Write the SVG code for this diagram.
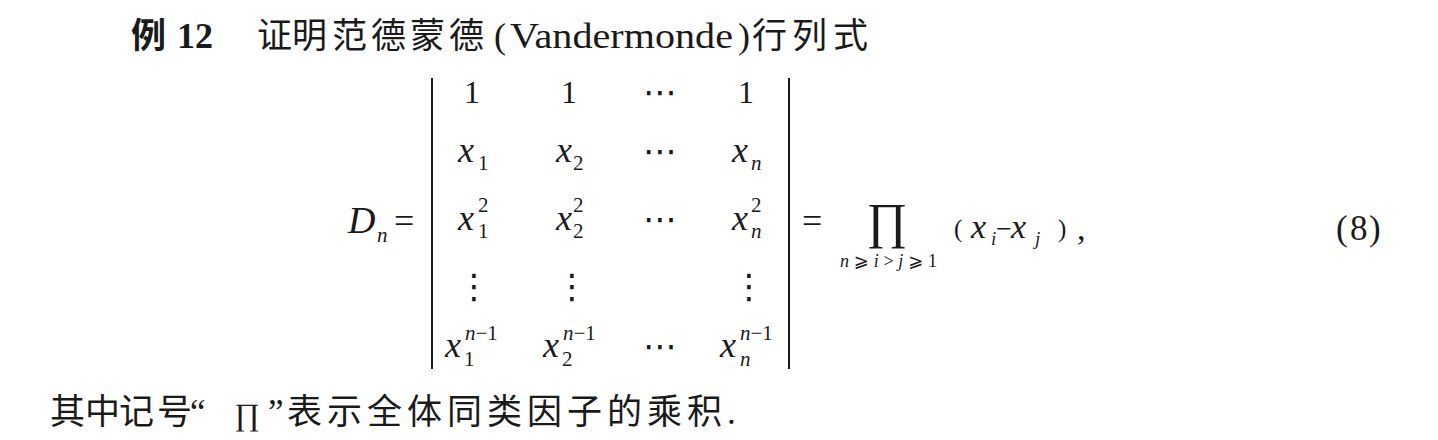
<svg xmlns="http://www.w3.org/2000/svg" width="1438" height="440" viewBox="0 0 1438 440">
<style>
.cjk{font-family:"Noto Sans CJK SC","Noto Sans",sans-serif;font-size:35px;fill:#1a1a1a}
.rm{font-family:"Liberation Serif","DejaVu Serif",serif;fill:#1a1a1a}
.it{font-family:"Liberation Serif","DejaVu Serif",serif;font-style:italic;fill:#1a1a1a}
.sym{font-family:"DejaVu Serif","DejaVu Sans",serif;fill:#1a1a1a}
.x{font-size:36px}
.s{font-size:21px}
.one{font-size:32px;text-anchor:middle}
.bar{stroke:#1a1a1a;stroke-width:2}
</style>
<rect width="1438" height="440" fill="#fff"/>
<g id="title">
<text class="cjk" x="131" y="48" font-weight="bold">例</text>
<text class="rm" x="177" y="48" font-size="36" font-weight="bold">12</text>
<text class="cjk" x="257 292 332 371 410 449" y="48">证明范德蒙德</text>
<text class="rm" x="494" y="48" font-size="36">(</text>
<text class="rm" x="510" y="48" font-size="36" textLength="223" lengthAdjust="spacingAndGlyphs">Vandermonde</text>
<text class="rm" x="738" y="48" font-size="36">)</text>
<text class="cjk" x="752 792 833" y="48">行列式</text>
</g>
<g id="lhs">
<text class="it" x="348" y="233" font-size="38">D</text>
<text class="it s" x="377" y="242">n</text>
<text class="rm" x="394" y="233" font-size="36">=</text>
</g>
<g id="bars">
<line class="bar" x1="432" y1="78" x2="432" y2="369"/>
<line class="bar" x1="789" y1="78" x2="789" y2="369"/>
</g>
<g id="matrix">
<text class="rm one" x="472" y="103">1</text>
<text class="rm one" x="569" y="103">1</text>
<text class="sym" x="660" y="104" font-size="34" text-anchor="middle">⋯</text>
<text class="rm one" x="746" y="103">1</text>

<text class="it x" x="458" y="162">x</text><text class="rm s" x="478" y="170">1</text>
<text class="it x" x="556" y="162">x</text><text class="rm s" x="573" y="170">2</text>
<text class="sym" x="660" y="163" font-size="34" text-anchor="middle">⋯</text>
<text class="it x" x="732" y="162">x</text><text class="it s" x="751" y="170">n</text>

<text class="it x" x="458" y="230">x</text><text class="rm s" x="478" y="212">2</text><text class="rm s" x="478" y="238">1</text>
<text class="it x" x="556" y="230">x</text><text class="rm s" x="573" y="212">2</text><text class="rm s" x="573" y="238">2</text>
<text class="sym" x="660" y="231" font-size="34" text-anchor="middle">⋯</text>
<text class="it x" x="732" y="230">x</text><text class="rm s" x="751" y="212">2</text><text class="it s" x="751" y="238">n</text>

<text class="sym" x="474" y="298" font-size="34" text-anchor="middle">⋮</text>
<text class="sym" x="572" y="298" font-size="34" text-anchor="middle">⋮</text>
<text class="sym" x="749" y="298" font-size="34" text-anchor="middle">⋮</text>

<text class="it x" x="445" y="357">x</text><text class="rm s" x="465" y="340"><tspan font-style="italic">n</tspan>−1</text><text class="rm s" x="464" y="366">1</text>
<text class="it x" x="543" y="357">x</text><text class="rm s" x="563" y="340"><tspan font-style="italic">n</tspan>−1</text><text class="rm s" x="562" y="366">2</text>
<text class="sym" x="660" y="358" font-size="34" text-anchor="middle">⋯</text>
<text class="it x" x="720" y="357">x</text><text class="rm s" x="740" y="340"><tspan font-style="italic">n</tspan>−1</text><text class="it s" x="740" y="366">n</text>
</g>
<g id="rhs">
<text class="rm" x="802" y="233" font-size="36">=</text>
<text class="rm" x="887" y="238" font-size="50" text-anchor="middle">∏</text>
<text class="rm" x="840" y="267" font-size="18" textLength="97" lengthAdjust="spacing"><tspan font-style="italic">n</tspan><tspan class="sym">⩾</tspan><tspan font-style="italic">i</tspan>&gt;<tspan font-style="italic">j</tspan><tspan class="sym">⩾</tspan>1</text>
<text class="rm" x="954" y="237" font-size="25" fill="#555">(</text>
<text class="it" x="971" y="238" font-size="34">x</text><text class="it" x="991" y="245" font-size="19">i</text>
<text class="rm" x="996" y="238" font-size="28">−</text>
<text class="it" x="1011" y="238" font-size="34">x</text><text class="it" x="1035" y="245" font-size="19">j</text>
<text class="rm" x="1058" y="237" font-size="25">)</text>
<text class="rm" x="1077" y="240" font-size="34">,</text>
</g>
<g id="eqnum">
<text class="rm" x="1336 1350 1369" y="240" font-size="35">(8)</text>
</g>
<g id="note">
<text class="cjk" x="50 85 119 157" y="424">其中记号</text>
<text class="rm" x="190" y="424" font-size="35">“</text>
<text class="rm" x="247" y="425" font-size="31" text-anchor="middle">∏</text>
<text class="rm" x="268" y="424" font-size="35">”</text>
<text class="cjk" x="287 327 367 407 447 487 527 567 607 647 687" y="424">表示全体同类因子的乘积</text>
<text class="rm" x="727" y="424" font-size="35">.</text>
</g>
</svg>
